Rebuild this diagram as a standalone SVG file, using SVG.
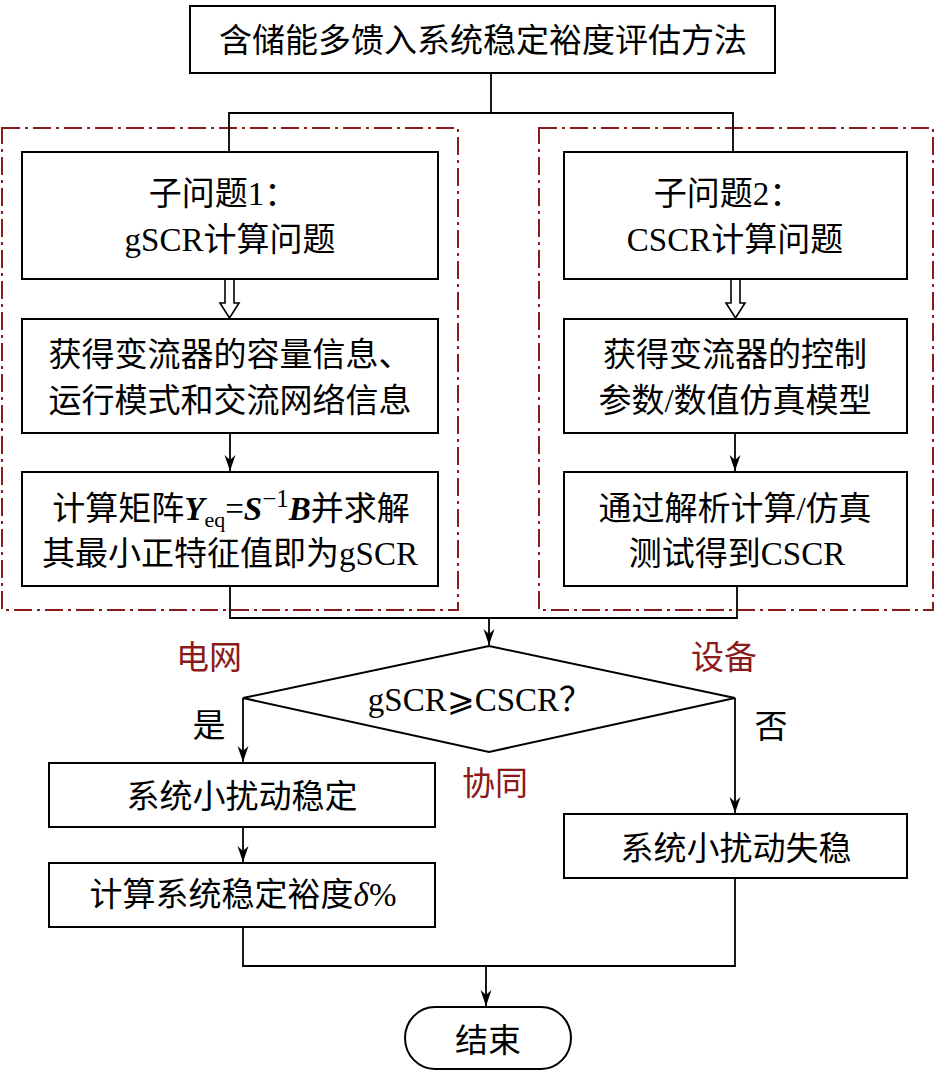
<svg xmlns="http://www.w3.org/2000/svg" width="935" height="1072" viewBox="0 0 935 1072">
<style>
.box{fill:#fff;stroke:#000;stroke-width:2}
.ln{fill:none;stroke:#000;stroke-width:1.8}
.dash{fill:none;stroke:#8B1A1A;stroke-width:2;stroke-dasharray:18 5 3 5}
.t{font-family:"Liberation Serif","Noto Sans CJK SC",serif;font-size:33px;fill:#000;text-anchor:middle}
.r{fill:#8B1A1A}
.hol{fill:#fff;stroke:#000;stroke-width:1.6}
</style>
<defs>
<marker id="ah" viewBox="0 0 16 12" refX="16" refY="6" markerWidth="16" markerHeight="12" orient="auto" markerUnits="userSpaceOnUse">
<path d="M0,0.5 L16,6 L0,11.5 L5,6 Z" fill="#000"/>
</marker>
</defs>
<g id="groups">
<rect class="dash" x="2" y="128" width="456" height="482"/>
<rect class="dash" x="539" y="128" width="394" height="482"/>
</g>
<g id="connectors">
<path class="ln" d="M491,73 V113 M229,152 V113 H733 V152"/>
<path class="hol" d="M225,279 V303 H220 L229.5,318 L239,303 H234 V279"/>
<path class="hol" d="M731,279 V303 H726 L735.5,318 L745,303 H740 V279"/>
<path class="ln" d="M230,433 V471" marker-end="url(#ah)"/>
<path class="ln" d="M735,433 V471" marker-end="url(#ah)"/>
<path class="ln" d="M230,586 V618 H737 V586"/>
<path class="ln" d="M489,618 V645" marker-end="url(#ah)"/>
<path class="ln" d="M243,698 V762" marker-end="url(#ah)"/>
<path class="ln" d="M243,827 V862" marker-end="url(#ah)"/>
<path class="ln" d="M735,698 V813" marker-end="url(#ah)"/>
<path class="ln" d="M243,927 V966 H735 V878"/>
<path class="ln" d="M486,966 V1006" marker-end="url(#ah)"/>
</g>
<g id="n-top">
<rect class="box" x="190" y="6" width="585" height="67"/>
<text class="t" x="483" y="52">含储能多馈入系统稳定裕度评估方法</text>
</g>
<g id="n-sub1">
<rect class="box" x="22" y="152" width="416" height="127"/>
<text class="t" x="223" y="205">子问题1：</text>
<text class="t" x="230" y="251">gSCR计算问题</text>
</g>
<g id="n-sub2">
<rect class="box" x="564" y="152" width="343" height="127"/>
<text class="t" x="728" y="205">子问题2：</text>
<text class="t" x="735" y="251">CSCR计算问题</text>
</g>
<g id="n-l2">
<rect class="box" x="22" y="319" width="416" height="114"/>
<text class="t" x="230" y="366">获得变流器的容量信息、</text>
<text class="t" x="230" y="412">运行模式和交流网络信息</text>
</g>
<g id="n-r2">
<rect class="box" x="564" y="319" width="343" height="114"/>
<text class="t" x="735" y="366">获得变流器的控制</text>
<text class="t" x="735" y="412">参数/数值仿真模型</text>
</g>
<g id="n-l3">
<rect class="box" x="22" y="472" width="416" height="114"/>
<text class="t" x="231" y="520">计算矩阵<tspan font-weight="bold" font-style="italic">Y</tspan><tspan font-size="22" dy="7">eq</tspan><tspan dy="-7">=</tspan><tspan font-weight="bold" font-style="italic">S</tspan><tspan font-size="25" dy="-13">−1</tspan><tspan dy="13" font-weight="bold" font-style="italic">B</tspan>并求解</text>
<text class="t" x="230" y="565">其最小正特征值即为gSCR</text>
</g>
<g id="n-r3">
<rect class="box" x="564" y="472" width="343" height="114"/>
<text class="t" x="735" y="520">通过解析计算/仿真</text>
<text class="t" x="737" y="565">测试得到CSCR</text>
</g>
<g id="n-dec">
<path class="box" d="M489,646 L735,698 L489,752 L243,698 Z"/>
<text class="t" x="480" y="711">gSCR⩾CSCR？</text>
</g>
<g id="n-stable">
<rect class="box" x="49" y="763" width="386" height="64"/>
<text class="t" x="242" y="808">系统小扰动稳定</text>
</g>
<g id="n-margin">
<rect class="box" x="49" y="863" width="386" height="64"/>
<text class="t" x="243" y="906">计算系统稳定裕度<tspan font-style="italic">δ</tspan>%</text>
</g>
<g id="n-unstable">
<rect class="box" x="564" y="814" width="343" height="64"/>
<text class="t" x="736" y="860">系统小扰动失稳</text>
</g>
<g id="n-end">
<rect class="box" x="405" y="1007" width="166" height="62" rx="30" ry="31"/>
<text class="t" x="488" y="1052">结束</text>
</g>
<g id="labels">
<text class="t r" x="209" y="669">电网</text>
<text class="t r" x="724" y="669">设备</text>
<text class="t r" x="495" y="795">协同</text>
<text class="t" x="209" y="737">是</text>
<text class="t" x="771" y="738">否</text>
</g>
</svg>
